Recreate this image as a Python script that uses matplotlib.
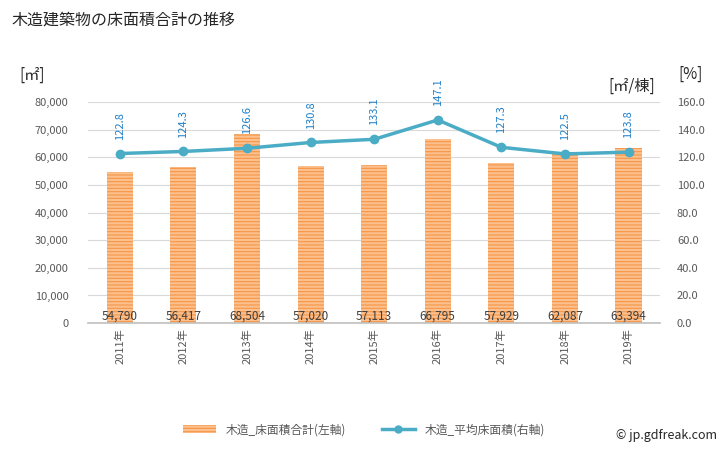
import matplotlib
matplotlib.use('Agg')
import matplotlib.pyplot as plt
import numpy as np
from matplotlib.patches import Patch
from matplotlib.lines import Line2D

plt.rcParams['font.family'] = ['Noto Sans CJK JP', 'DejaVu Sans']
plt.rcParams['hatch.linewidth'] = 0.8

years = ['2011年', '2012年', '2013年', '2014年', '2015年', '2016年', '2017年', '2018年', '2019年']
floor_area = [54790, 56417, 68504, 57020, 57113, 66795, 57929, 62087, 63394]
avg_area = [122.8, 124.3, 126.6, 130.8, 133.1, 147.1, 127.3, 122.5, 123.8]

bar_color = '#f79646'
line_color = '#4bacc6'
label_blue = '#1f7fc8'
tick_gray = '#595959'

fig = plt.figure(figsize=(7.28, 4.5), dpi=100)
ax = fig.add_axes([0.121, 0.282, 0.786, 0.491])
ax2 = ax.twinx()

x = np.arange(len(years))
ax.bar(x, floor_area, width=0.41, color='#fbc08e', edgecolor=bar_color,
       hatch='-----', linewidth=0, zorder=2)
for xi, v in zip(x, floor_area):
    ax.text(xi, 2700, f'{v:,}', ha='center', va='center', fontsize=8.5, color='#404040', zorder=5)

ax.set_ylim(0, 80000)
ax.set_yticks(np.arange(0, 80001, 10000))
ax.set_yticklabels([f'{v:,}' for v in range(0, 80001, 10000)])
ax.set_xlim(-0.5, len(years) - 0.5)
ax.set_xticks(x)
ax.set_xticklabels(years, rotation=90)
ax.grid(axis='y', color='#d9d9d9', linewidth=0.8, zorder=0)
ax.set_axisbelow(True)

ax2.plot(x, avg_area, color=line_color, linewidth=2.5, marker='o', markersize=6, zorder=4)
for xi, v in zip(x, avg_area):
    ax2.annotate(f'{v}', (xi, v), xytext=(0, 10), textcoords='offset points',
                 rotation=90, ha='center', va='bottom', fontsize=8, color=label_blue)
ax2.set_ylim(0, 160)
ax2.set_yticks(np.arange(0, 160.1, 20))
ax2.set_yticklabels([f'{v:.1f}' for v in np.arange(0, 160.1, 20)])

for a in (ax, ax2):
    for s in a.spines.values():
        s.set_visible(False)
    a.tick_params(length=0, labelsize=8, colors=tick_gray)
ax.spines['bottom'].set_visible(True)
ax.spines['bottom'].set_color('#bfbfbf')
ax.spines['bottom'].set_linewidth(1.2)
ax.tick_params(axis='y', pad=14)
ax2.tick_params(axis='y', pad=12)

fig.text(0.016, 0.955, '木造建築物の床面積合計の推移', fontsize=11.5, color='#262626', va='center')
fig.text(0.027, 0.833, '[㎡]', fontsize=11, color='#262626', va='center')
fig.text(0.932, 0.835, '[%]', fontsize=11, color='#262626', va='center')
fig.text(0.835, 0.808, '[㎡/棟]', fontsize=11, color='#262626', va='center')

handles = [Patch(facecolor='#fbc08e', edgecolor=bar_color, hatch='-----', linewidth=0),
           Line2D([0], [0], color=line_color, linewidth=2.5, marker='o', markersize=5)]
fig.legend(handles, ['木造_床面積合計(左軸)', '木造_平均床面積(右軸)'], loc='center',
           bbox_to_anchor=(0.5, 0.045), ncol=2, frameon=False, fontsize=8.5,
           handlelength=2.8, columnspacing=3.0, labelcolor=tick_gray)
fig.text(0.985, 0.033, '© jp.gdfreak.com', fontsize=9, color='#262626', ha='right', va='center')

fig.savefig('out.png', dpi=100)
